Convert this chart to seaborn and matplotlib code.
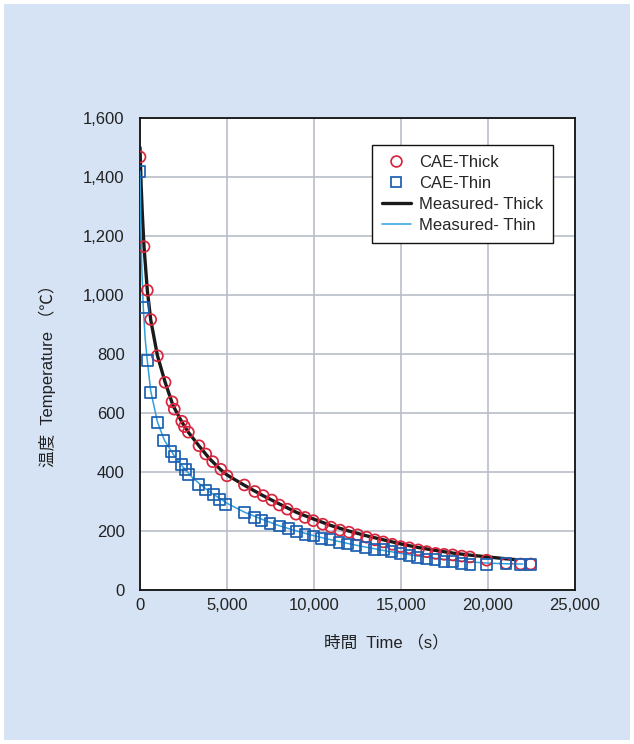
import matplotlib
matplotlib.use("Agg")
import matplotlib.pyplot as plt
from matplotlib.patches import Rectangle
from matplotlib.lines import Line2D
from matplotlib.ticker import FuncFormatter
import seaborn as sns
import pandas as pd

# CAE-Thick (circles)
thick_cae_t = [0, 230, 420, 615, 1000, 1440, 1840, 1970, 2400, 2550, 2780, 3390, 3780, 4180, 4650,
               5000, 6000, 6600, 7080, 7570, 8006, 8466, 8966, 9483, 9960, 10500, 10977, 11494,
               12011, 12511, 13029, 13506, 13983, 14500, 14983, 15477, 15994, 16477, 16994, 17471,
               17971, 18489, 18966, 19925, 21034, 21879, 22454]
thick_cae_v = [1468, 1164, 1016, 917, 794, 704, 638, 613, 572, 554, 535, 489, 461, 435, 409,
               387, 356, 334, 320, 305, 288, 274, 257, 246, 235, 223, 213, 203,
               196, 187, 179, 170, 163, 155, 147, 143, 136, 130, 124, 121,
               119, 115, 112, 101, 90, 88, 88]

# CAE-Thin (squares)
thin_cae_t = [0, 190, 420, 615, 1017, 1340, 1780, 1970, 2400, 2630, 2780, 3350, 3790, 4210, 4560,
              4925, 5994, 6570, 6994, 7471, 8006, 8523, 9006, 9483, 9960, 10443, 10920, 11437,
              11914, 12414, 12971, 13466, 13983, 14466, 14983, 15477, 15960, 16477, 16954, 17471,
              17971, 18489, 18966, 19925, 21034, 21879, 22454]
thin_cae_v = [1420, 957, 777, 671, 569, 508, 468, 452, 424, 409, 393, 359, 339, 323, 307,
              289, 263, 245, 237, 226, 217, 208, 197, 187, 183, 175, 170, 162,
              156, 150, 143, 138, 136, 129, 124, 116, 109, 105, 102, 97,
              96, 91, 88, 88, 91, 88, 88]

# Measured curves
thick_meas_t = [0, 60, 130, 230, 420, 615, 1000, 1440, 1900, 2400, 2800, 3400, 4000, 4600, 5000,
                6000, 7000, 8000, 9000, 10000, 11000, 12000, 13000, 14000, 15000, 16000, 17000,
                18000, 19000, 20000, 21000, 21600]
thick_meas_v = [1500, 1380, 1280, 1164, 1016, 916, 795, 705, 625, 570, 533, 488, 445, 410, 390,
                355, 322, 292, 263, 240, 218, 200, 184, 170, 156, 144, 134,
                125, 118, 112, 106, 103]

thin_meas_t = [0, 50, 100, 190, 300, 420, 615, 1000, 1400, 2000, 2500, 3000, 3500, 4000, 5000,
               6000, 7000, 8000, 9000, 10000, 11000, 12000, 13000, 14000, 15000, 16000, 17000,
               18000, 19000, 20000, 21000, 22000]
thin_meas_v = [1420, 1230, 1100, 957, 850, 777, 675, 570, 508, 452, 415, 382, 356, 333, 294,
               264, 240, 218, 200, 184, 170, 157, 145, 134, 124, 115, 107,
               100, 95, 91, 89, 88]

labels = ["CAE-Thick", "CAE-Thin", "Measured- Thick", "Measured- Thin"]
yticks = [0, 200, 400, 600, 800, 1000, 1200, 1400, 1600]
xticks = [0, 5000, 10000, 15000, 20000, 25000]

BG = "#d5e3f4"
RED = "#d7263d"
BLUE = "#1b5fb0"
LIGHTBLUE = "#2fa0dc"
FONT = ["Liberation Sans", "Noto Sans CJK JP", "DejaVu Sans"]
FS = 12

sns.set_style("white")
plt.rcParams["font.family"] = FONT

fig = plt.figure(figsize=(6.34, 7.44), dpi=100)
fig.patch.set_facecolor("white")
fig.patches.append(Rectangle((4 / 634, 4 / 744), 626 / 634, 736 / 744,
                             transform=fig.transFigure, facecolor=BG,
                             edgecolor="none", zorder=-10))

W, H = 634, 744
ax = fig.add_axes([140 / W, 1 - 590 / H, 435 / W, 472 / H])
ax.set_zorder(1)
ax.set_facecolor("white")

df_tm = pd.DataFrame({"t": thick_meas_t, "v": thick_meas_v})
df_nm = pd.DataFrame({"t": thin_meas_t, "v": thin_meas_v})
df_tc = pd.DataFrame({"t": thick_cae_t, "v": thick_cae_v})
df_nc = pd.DataFrame({"t": thin_cae_t, "v": thin_cae_v})

sns.lineplot(data=df_tm, x="t", y="v", ax=ax, color="#1a1a1a", linewidth=2.4,
             sort=False, zorder=3)
sns.lineplot(data=df_nm, x="t", y="v", ax=ax, color=LIGHTBLUE, linewidth=1.1,
             sort=False, zorder=3)
sns.scatterplot(data=df_tc, x="t", y="v", ax=ax, marker="o", s=62,
                facecolor="none", edgecolor=RED, linewidth=1.25, zorder=4)
sns.scatterplot(data=df_nc, x="t", y="v", ax=ax, marker="s", s=62,
                facecolor="none", edgecolor=BLUE, linewidth=1.25, zorder=4)

ax.set_xlim(0, 25000)
ax.set_ylim(0, 1600)
ax.set_xticks(xticks)
ax.set_yticks(yticks)
fmt = FuncFormatter(lambda v, p: f"{int(v):,}")
ax.xaxis.set_major_formatter(fmt)
ax.yaxis.set_major_formatter(fmt)
ax.tick_params(axis="both", length=0, labelsize=FS, colors="#222222")
ax.tick_params(axis="y", pad=11)
ax.tick_params(axis="x", pad=6)
ax.grid(True, color="#b9bdc8", linewidth=1.2)
ax.set_axisbelow(True)
for s in ax.spines.values():
    s.set_visible(True)
    s.set_color("#111111")
    s.set_linewidth(1.3)

ax.set_xlabel("時間  Time （s）", fontsize=FS, color="#222222")
ax.set_ylabel("温度  Temperature （℃）", fontsize=FS, color="#222222")
ax.xaxis.set_label_coords((386 - 140) / 435, -(635 - 590) / 472)
ax.yaxis.set_label_coords(-(140 - 56) / 435, (590 - 372) / 472)

handles = [
    Line2D([], [], linestyle="none", marker="o", markersize=7.8, markerfacecolor="none",
           markeredgecolor=RED, markeredgewidth=1.25),
    Line2D([], [], linestyle="none", marker="s", markersize=7.8, markerfacecolor="none",
           markeredgecolor=BLUE, markeredgewidth=1.25),
    Line2D([], [], color="#1a1a1a", linewidth=2.4),
    Line2D([], [], color=LIGHTBLUE, linewidth=1.1),
]
leg = ax.legend(handles, labels, loc="upper right",
                bbox_to_anchor=((553 - 140) / 435, (590 - 145) / 472),
                frameon=True, fancybox=False, fontsize=FS, handlelength=1.7,
                borderpad=0.6, labelspacing=0.36, handletextpad=0.5,
                borderaxespad=0)
leg.get_frame().set_edgecolor("#111111")
leg.get_frame().set_linewidth(1.0)
leg.get_frame().set_facecolor("white")
leg.get_frame().set_alpha(1)

fig.savefig("out.png", dpi=100, facecolor=fig.get_facecolor())
